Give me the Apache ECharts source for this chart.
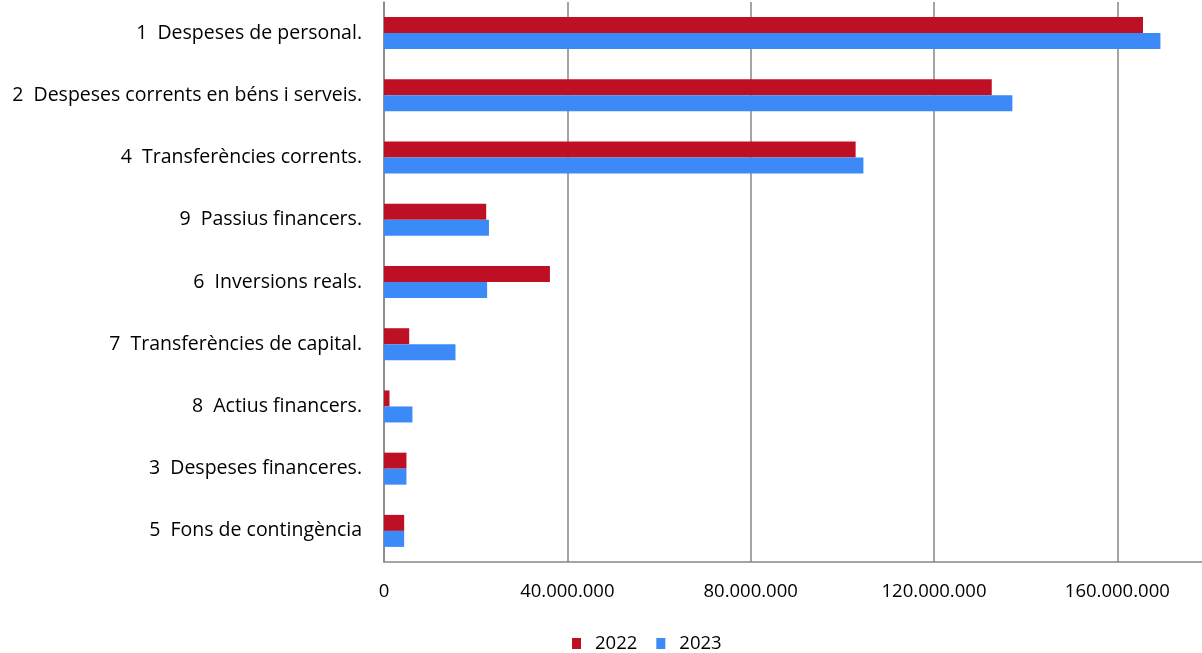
<!DOCTYPE html>
<html>
<head>
<meta charset="utf-8">
<script src="https://cdn.jsdelivr.net/npm/echarts@6/dist/echarts.min.js"></script>
<style>
html,body{margin:0;padding:0;background:#fff;}
#chart{width:1202px;height:653px;}
</style>
</head>
<body>
<div id="chart"></div>
<script>
const categories = [
  "1  Despeses de personal.",
  "2  Despeses corrents en béns i serveis.",
  "4  Transferències corrents.",
  "9  Passius financers.",
  "6  Inversions reals.",
  "7  Transferències de capital.",
  "8  Actius financers.",
  "3  Despeses financeres.",
  "5  Fons de contingència"
];
const values2022 = [165600000, 132600000, 102900000, 22300000, 36200000, 5500000, 1200000, 4900000, 4400000];
const values2023 = [169400000, 137100000, 104600000, 22900000, 22500000, 15600000, 6200000, 4900000, 4400000];
const seriesNames = ["2022", "2023"];
const tickStep = 40000000;

const font = "'Open Sans', Lato, sans-serif";
function fmt(v) {
  return String(Math.round(v)).replace(/\B(?=(\d{3})+(?!\d))/g, ".");
}
const chart = echarts.init(document.getElementById('chart'));
chart.setOption({
  animation: false,
  textStyle: { fontFamily: font },
  grid: { left: 384, width: 825, top: 2, bottom: 91, containLabel: false, outerBoundsMode: 'none' },
  legend: {
    data: seriesNames,
    left: 567,
    top: 629,
    itemWidth: 9,
    itemHeight: 11,
    itemGap: 19,
    icon: 'rect',
    textStyle: { fontFamily: font, fontSize: 18.5, color: '#000', padding: [0, 0, 0, 9] }
  },
  xAxis: {
    type: 'value',
    min: 0,
    max: 180000000,
    interval: tickStep,
    axisLine: { show: true, lineStyle: { color: '#868686', width: 1.5 } },
    axisTick: { show: false },
    splitLine: { show: true, lineStyle: { color: '#868686', width: 1.5 } },
    axisLabel: {
      margin: 20,
      fontSize: 18.5,
      color: '#000',
      fontFamily: font,
      formatter: function (v) { return (v % tickStep === 0) ? fmt(v) : ''; }
    }
  },
  yAxis: {
    type: 'category',
    data: categories,
    inverse: true,
    axisLine: { show: true, lineStyle: { color: '#868686', width: 1.5 } },
    axisTick: { show: false },
    splitLine: { show: false },
    axisLabel: { margin: 22, fontSize: 19.5, color: '#000', fontFamily: font }
  },
  series: [
    {
      name: seriesNames[0], type: 'bar', data: values2022,
      barWidth: 16, barGap: '0%',
      itemStyle: { color: '#BE1024' }
    },
    {
      name: seriesNames[1], type: 'bar', data: values2023,
      barWidth: 16, barGap: '0%',
      itemStyle: { color: '#3C8AF7' }
    }
  ]
});
</script>
</body>
</html>
